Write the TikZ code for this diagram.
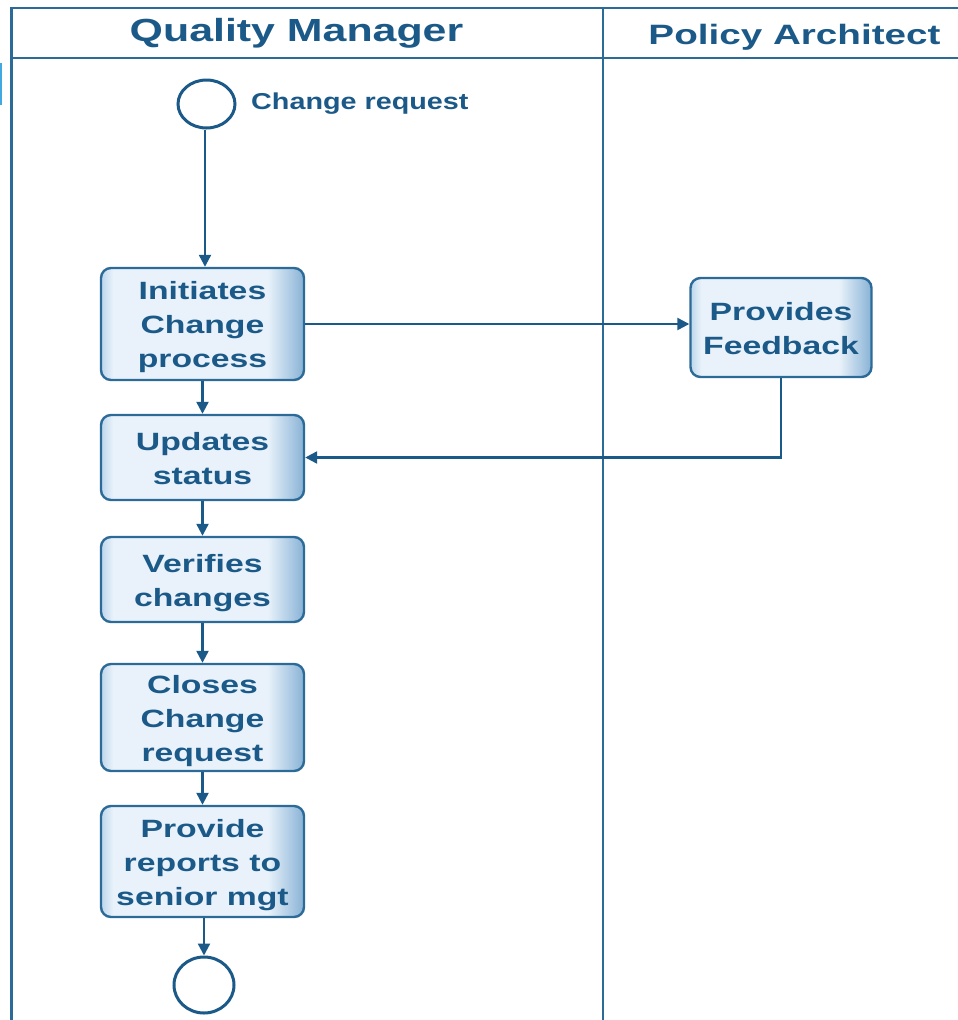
\documentclass[tikz,border=0pt]{standalone}
\usepackage{fontspec}
\setmainfont{Liberation Sans}
\usetikzlibrary{arrows.meta,shapes.geometric}
\definecolor{lane}{HTML}{2C6A98}
\definecolor{ink}{HTML}{1B5A88}
\definecolor{shadeL}{HTML}{BCD6EC}
\definecolor{shadeIn}{HTML}{E9F2FA}
\definecolor{shadeR}{HTML}{88B2D6}
\definecolor{tick}{HTML}{3FA9E0}

% pale fill, slightly darker at the left edge and clearly darker at the right edge
\pgfdeclarehorizontalshading{boxshade}{100bp}{color(0bp)=(shadeL); color(25bp)=(shadeL);
  color(28bp)=(shadeIn); color(66bp)=(shadeIn); color(75bp)=(shadeR); color(100bp)=(shadeR)}

% wide bold text, several lines centred, set a little below the middle
\newcommand{\widetext}[3]{\raisebox{-3pt}[\height][\depth]{\scalebox{#2}[1]{\fontsize{#1}{34}\selectfont\bfseries\begin{tabular}{@{}c@{}}#3\end{tabular}}}}

\tikzset{
  laneline/.style={draw=lane, line width=2.6pt},
  procbox/.style={rectangle, rounded corners=10pt, draw=lane, line width=2.4pt,
    shading=boxshade, minimum width=203pt, inner sep=0pt, text=ink},
  event/.style={ellipse, draw=ink, line width=3pt, fill=white, inner sep=0pt},
  flow/.style={draw=ink, line width=2.3pt, -{Triangle[length=12pt,width=12pt]}},
  header/.style={text=ink, anchor=base, inner sep=0pt},
}

\begin{document}
\begin{tikzpicture}[x=1pt, y=-1pt]
\useasboundingbox (0,0) rectangle (958,1020);

% swimlane frame
\draw[laneline] (958,8) -- (11.5,8) -- (11.5,1020);
\draw[laneline] (11.5,58) -- (958,58);
\draw[laneline] (603,8) -- (603,1020);
\draw[tick, line width=2pt] (1,63) -- (1,105);

% lane titles
\node[header] (qm) at (296.5,41) {\scalebox{1.34}[1]{\fontsize{32}{32}\selectfont\bfseries Quality Manager}};
\node[header] (pa) at (794.5,44) {\scalebox{1.38}[1]{\fontsize{28}{28}\selectfont\bfseries Policy Architect}};

% start and end events
\node[event, minimum width=57pt, minimum height=48pt] (start) at (206.5,104) {};
\node[header, anchor=base west] (startlbl) at (251,109) {\scalebox{1.25}[1]{\fontsize{23}{23}\selectfont\bfseries Change request}};
\node[event, minimum width=60pt, minimum height=56pt] (stop) at (204,985) {};

% activities
\node[procbox, minimum height=112pt] (init) at (202.5,324) {\widetext{25}{1.35}{Initiates\\Change\\process}};
\node[procbox, minimum height=85pt] (upd) at (202.5,457.5) {\widetext{25}{1.35}{Updates\\status}};
\node[procbox, minimum height=85pt] (ver) at (202.5,579.5) {\widetext{25}{1.35}{Verifies\\changes}};
\node[procbox, minimum height=107pt] (close) at (202.5,717.5) {\widetext{25}{1.35}{Closes\\Change\\request}};
\node[procbox, minimum height=111pt] (rep) at (202.5,861.5) {\widetext{25}{1.35}{Provide\\reports to\\senior mgt}};
\node[procbox, minimum width=181pt, minimum height=99pt] (fb) at (781,327.5) {\widetext{25}{1.35}{Provides\\Feedback}};

% sequence flows
\draw[flow] ([xshift=-1.5pt]start.south) -- ([xshift=-1.5pt]start.south |- init.north);
\draw[flow] (init.east) -- (init.east -| fb.west);
\draw[flow] (fb.south) |- (upd.east);
\draw[flow] (init) -- (upd);
\draw[flow] (upd) -- (ver);
\draw[flow] (ver) -- (close);
\draw[flow] (close) -- (rep);
\draw[flow] (rep.south -| stop.north) -- (stop.north);
\end{tikzpicture}
\end{document}
